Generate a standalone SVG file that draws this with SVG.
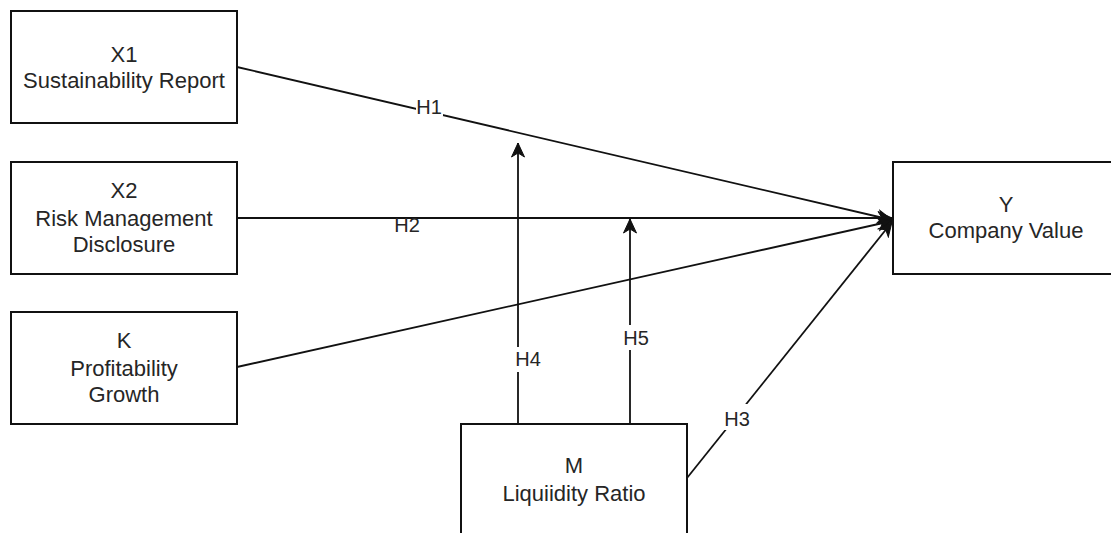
<svg xmlns="http://www.w3.org/2000/svg" width="1111" height="533" viewBox="0 0 1111 533">
  <style>
    .box { fill: #ffffff; stroke: #111111; stroke-width: 2; }
    .t { font-family: "Liberation Sans", Arial, sans-serif; font-size: 22px; fill: #262626; text-anchor: middle; }
    .lbl { font-family: "Liberation Sans", Arial, sans-serif; font-size: 20px; fill: #262626; text-anchor: middle; }
    .edge { fill: none; stroke: #111111; stroke-width: 1.8; }
    .lblbg { fill: #ffffff; }
  </style>
  <defs>
    <marker id="arrow" markerUnits="userSpaceOnUse" viewBox="-15 -8 16 16" refX="0" refY="0" markerWidth="16" markerHeight="16" orient="auto">
      <path d="M0,0 L-14,-6.5 L-10,0 L-14,6.5 Z" fill="#111111" stroke="#111111" stroke-width="1"/>
    </marker>
  </defs>
  <rect width="1111" height="533" fill="#ffffff"/>

  <g id="connectors">
    <line class="edge" x1="237" y1="67" x2="892" y2="220" marker-end="url(#arrow)"/>
    <line class="edge" x1="237" y1="218" x2="892" y2="218" marker-end="url(#arrow)"/>
    <line class="edge" x1="237" y1="367" x2="892" y2="221" marker-end="url(#arrow)"/>
    <line class="edge" x1="687" y1="478" x2="892" y2="222" marker-end="url(#arrow)"/>
    <line class="edge" x1="518" y1="424" x2="518" y2="143" marker-end="url(#arrow)"/>
    <line class="edge" x1="630" y1="424" x2="630" y2="219" marker-end="url(#arrow)"/>

    <rect class="lblbg" x="416" y="98" width="27" height="18"/>
    <text class="lbl" x="429" y="114">H1</text>
    <rect class="lblbg" x="394" y="219" width="27" height="14"/>
    <text class="lbl" x="407" y="232">H2</text>
    <rect class="lblbg" x="514" y="347" width="28" height="25"/>
    <text class="lbl" x="528" y="366">H4</text>
    <rect class="lblbg" x="622" y="325" width="28" height="25"/>
    <text class="lbl" x="636" y="345">H5</text>
    <rect class="lblbg" x="723" y="404" width="29" height="26"/>
    <text class="lbl" x="737" y="426">H3</text>
  </g>

  <g id="node-x1">
    <rect class="box" x="11" y="11" width="226" height="112"/>
    <text class="t" x="124" y="62">X1</text>
    <text class="t" x="124" y="88">Sustainability Report</text>
  </g>
  <g id="node-x2">
    <rect class="box" x="11" y="162" width="226" height="112"/>
    <text class="t" x="124" y="198">X2</text>
    <text class="t" x="124" y="226">Risk Management</text>
    <text class="t" x="124" y="252">Disclosure</text>
  </g>
  <g id="node-k">
    <rect class="box" x="11" y="312" width="226" height="112"/>
    <text class="t" x="124" y="348">K</text>
    <text class="t" x="124" y="376">Profitability</text>
    <text class="t" x="124" y="402">Growth</text>
  </g>
  <g id="node-y">
    <rect class="box" x="893" y="162" width="226" height="112"/>
    <text class="t" x="1006" y="212">Y</text>
    <text class="t" x="1006" y="238">Company Value</text>
  </g>
  <g id="node-m">
    <rect class="box" x="461" y="424" width="226" height="112"/>
    <text class="t" x="574" y="473">M</text>
    <text class="t" x="574" y="501">Liquiidity Ratio</text>
  </g>
</svg>
